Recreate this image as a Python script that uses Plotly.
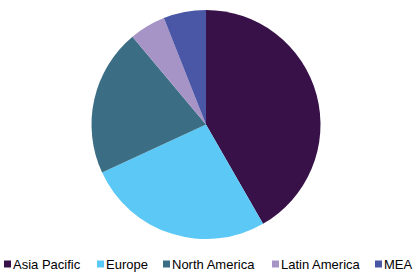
import plotly.graph_objects as go

labels = ["Asia Pacific", "Europe", "North America", "Latin America", "MEA"]
values = [41.7, 26.4, 20.8, 5.1, 6.0]
colors = ["#371148", "#5BC8F5", "#3B6E84", "#A794C6", "#4A56A6"]

# legend entry pixel positions (square left, text left)
sq_x = [4, 97, 163, 272, 375]
tx_x = [13, 106, 172, 281, 384]
leg_y = 264

W, H = 418, 279
ml, mr, mt, mb = 0, 6, 10, 40
pw, ph = W - ml - mr, H - mt - mb

fig = go.Figure(go.Pie(
    labels=labels, values=values, sort=False, direction="clockwise", rotation=0,
    marker=dict(colors=colors, line=dict(width=0)), textinfo="none", hoverinfo="label+percent",
    showlegend=False,
))

def px(x):
    return (x - ml) / pw

def py(y):
    return (H - mb - y) / ph

for lab, col, sx, tx in zip(labels, colors, sq_x, tx_x):
    fig.add_shape(type="rect", xref="paper", yref="paper",
                  x0=px(sx), x1=px(sx + 7), y0=py(leg_y + 3.5), y1=py(leg_y - 3.5),
                  fillcolor=col, line=dict(width=0))
    fig.add_annotation(text=lab, xref="paper", yref="paper", x=px(tx), y=py(leg_y),
                       xanchor="left", yanchor="middle", showarrow=False,
                       borderpad=0, borderwidth=0,
                       font=dict(size=13, color="#000000"))

fig.update_layout(
    width=W, height=H, margin=dict(l=ml, r=mr, t=mt, b=mb),
    paper_bgcolor="white", plot_bgcolor="white",
    font=dict(family="Liberation Sans, Arial, sans-serif", size=13, color="#000000"),
    showlegend=False,
)
fig.write_html("out.html")
